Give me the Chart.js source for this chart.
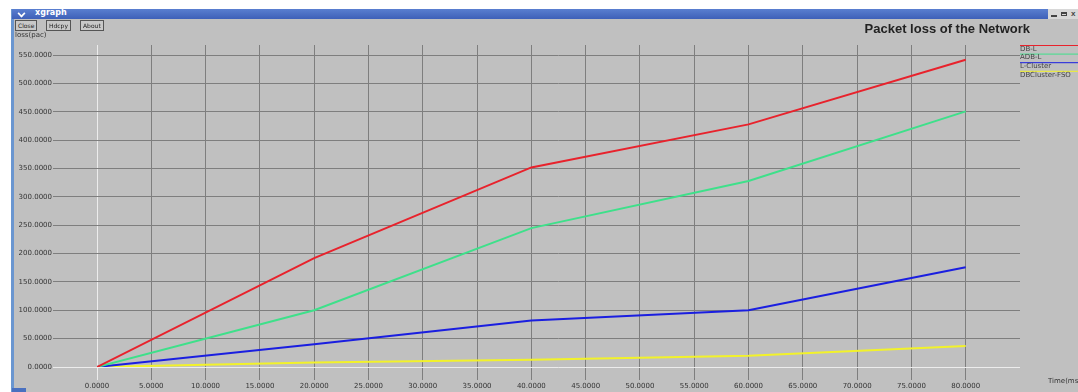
<!DOCTYPE html>
<html>
<head>
<meta charset="utf-8">
<script src="https://cdn.jsdelivr.net/npm/chart.js@4/dist/chart.umd.min.js"></script>
<style>
body { margin:0; width:1078px; height:392px; background:#fff; overflow:hidden; position:relative; font-family:"DejaVu Sans", sans-serif; }
#leftbar { position:absolute; left:11px; top:9px; width:3px; height:383px; background:#6a96d0; }
#corner { position:absolute; left:12px; top:388px; width:14px; height:4px; background:#4a70c0; }
#titlebar { position:absolute; left:12px; top:9px; width:1036px; height:10px; background:linear-gradient(#5a7fd0, #3e60b8); }
#titlebar span { position:absolute; left:23px; top:-1px; color:#fff; font:bold 8px "DejaVu Sans", sans-serif; }
#chev { position:absolute; left:6px; top:1px; width:5px; height:5px; border-right:2px solid #fff; border-bottom:2px solid #fff; transform:rotate(45deg) scale(0.8); }
#winctl { position:absolute; left:1048px; top:9px; width:30px; height:10px; background:#d8d8d8; }
#winctl i { position:absolute; top:3px; height:4px; width:6px; box-sizing:border-box; }
#panel { position:absolute; left:14px; top:19px; width:1064px; height:373px; background:#c0c0c0; }
.btn { position:absolute; top:1px; height:9px; border:1px solid #555; background:#c8c8c8; font:6px "DejaVu Sans", sans-serif; line-height:9px; color:#222; padding:0 2px; }
canvas { position:absolute; left:0; top:0; }
</style>
</head>
<body>
<div id="leftbar"></div>
<div id="titlebar"><div id="chev"></div><span>xgraph</span></div>
<div id="winctl">
  <i style="left:3px; top:6px; height:2px; background:#444"></i>
  <i style="left:13px; border:1px solid #444; border-top-width:2px"></i>
  <i style="left:23px; font:bold 8px sans-serif; top:0; color:#444">x</i>
</div>
<div id="panel">
  <canvas id="graph" width="1064" height="373"></canvas>
  <div class="btn" style="left:1px">Close</div>
  <div class="btn" style="left:32px">Hdcpy</div>
  <div class="btn" style="left:66px">About</div>
</div>
<div id="corner"></div>
<script>
// packet loss values
const time_ms = [0, 20, 40, 60, 80]
const db_l = [0, 192, 352, 428, 542]
const adb_l = [0, 100, 245, 328, 451]
const l_cluster = [0, 40, 82, 100, 176]
const dbcluster_fso = [0, 8, 13, 20, 37]

const x_ticks = [0, 5, 10, 15, 20, 25, 30, 35, 40, 45, 50, 55, 60, 65, 70, 75, 80]
const y_ticks = [0, 50, 100, 150, 200, 250, 300, 350, 400, 450, 500, 550]

const series_names = ['DB-L', 'ADB-L', 'L-Cluster', 'DBCluster-FSO']
const series_colors = ['#e8222c', '#3ee08a', '#1a1ee0', '#f2f22a']

function points(ys) {
    return time_ms.map((t, i) => ({x: t, y: ys[i]}))
}

let all_series = [db_l, adb_l, l_cluster, dbcluster_fso]
let datasets = []
for (let i = 0; i < all_series.length; i++) {
    datasets.push({
        label: series_names[i],
        data: points(all_series[i]),
        borderColor: series_colors[i],
        borderWidth: 2,
        pointRadius: 0,
        tension: 0,
        fill: false
    })
}

function gridColor(ctx) {
    if (ctx.tick && ctx.tick.value === 0) return '#ececec'
    return '#7e7e7e'
}

const small_font = {size: 7, family: 'DejaVu Sans'}

// xgraph style legend, title and axis names
const xgraph_extras = {
    id: 'xgraphExtras',
    afterDraw(chart) {
        const c = chart.ctx
        c.save()
        c.fillStyle = '#222'
        c.font = 'bold 13px "Liberation Sans", Arial, sans-serif'
        c.textAlign = 'right'
        c.textBaseline = 'middle'
        c.fillText('Packet loss of the Network', 1016, 10)

        c.font = '7px "DejaVu Sans", sans-serif'
        c.textAlign = 'left'
        c.fillStyle = '#333'
        c.fillText('loss(pac)', 1, 16)
        c.fillText('Time(ms', 1034, 362)

        chart.data.datasets.forEach((ds, i) => {
            let y = 26 + i * 8.6
            c.strokeStyle = ds.borderColor
            c.lineWidth = 1
            c.beginPath()
            c.moveTo(1006, y + 0.5)
            c.lineTo(1064, y + 0.5)
            c.stroke()
            c.fillStyle = '#444'
            c.fillText(ds.label, 1006, y + 4)
        })
        c.restore()
    }
}

let ctx = document.getElementById('graph')

let my_chart = new Chart(ctx, {
    type: 'line',
    data: {datasets: datasets},
    plugins: [xgraph_extras],
    options: {
        responsive: false,
        devicePixelRatio: 1,
        animation: false,
        layout: {padding: {top: 26, right: 58, left: 0, bottom: 0}},
        plugins: {legend: {display: false}, tooltip: {enabled: false}},
        scales: {
            x: {
                type: 'linear',
                min: 0,
                max: 85,
                afterBuildTicks: s => { s.ticks = x_ticks.map(v => ({value: v})) },
                afterFit: s => { s.height = 25 },
                border: {display: false},
                grid: {color: gridColor, tickLength: 13, lineWidth: 1},
                ticks: {
                    font: small_font, color: '#333', padding: 2,
                    maxRotation: 0, autoSkip: false,
                    callback: v => Number(v).toFixed(4)
                }
            },
            y: {
                type: 'linear',
                min: 0,
                max: 568,
                afterBuildTicks: s => { s.ticks = y_ticks.map(v => ({value: v})) },
                afterFit: s => { s.width = 83 },
                border: {display: false},
                grid: {color: gridColor, tickLength: 44, lineWidth: 1},
                ticks: {
                    font: small_font, color: '#333', padding: 1,
                    callback: v => Number(v).toFixed(4)
                }
            }
        }
    }
})
</script>
</body>
</html>
